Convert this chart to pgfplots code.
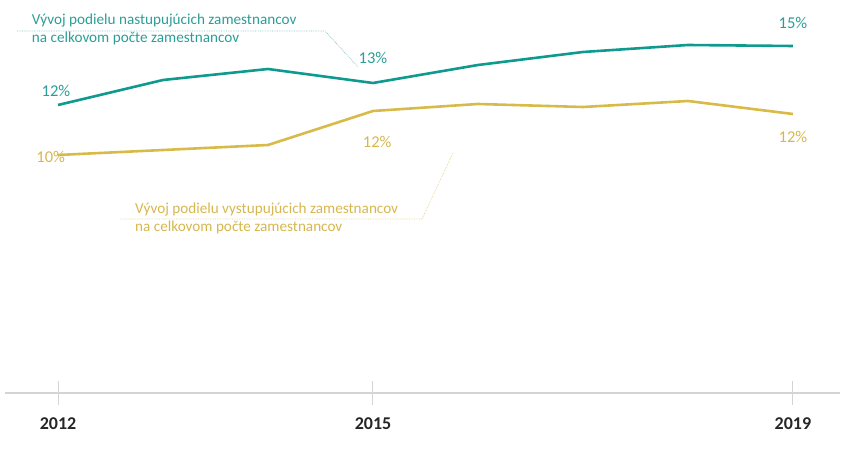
\documentclass[border=0pt]{standalone}
\usepackage{fontspec}
\setmainfont{Carlito}
\usepackage{pgfplots}
\pgfplotsset{compat=1.18}

\definecolor{teal1}{HTML}{0E9A8E}
\definecolor{gold1}{HTML}{D8BA48}
\definecolor{tealtxt}{HTML}{2A9E96}
\definecolor{goldtxt}{HTML}{D6B74E}
\definecolor{axgray}{HTML}{D4D4D4}

\pgfplotstableread{
year new left
2012 12.1 9.6
2013 13.35 9.85
2014 13.9 10.1
2015 13.2 11.8
2016 14.1 12.15
2017 14.75 12.0
2018 15.1 12.3
2019 15.05 11.65
}\shares

\begin{document}
\begin{tikzpicture}
\useasboundingbox (-5pt,-78pt) rectangle (842pt,393pt);
\begin{axis}[
    scale only axis,
    width=835pt, height=393pt,
    xmin=2011.495, xmax=2019.448,
    ymin=-2.3, ymax=17.35,
    axis line style={draw=none},
    axis x line*=bottom,
    axis y line=none,
    xtick={2012,2015,2019},
    xticklabels={2012,2015,2019},
    ytick=\empty,
    major tick length=24pt,
    tick align=center,
    tick style={axgray, line width=1pt},
    xticklabel style={font=\fontsize{18}{20}\selectfont\bfseries, text=black!85, anchor=center, yshift=-19pt},
    clip=false,
]
\draw[axgray, line width=1.6pt] (axis cs:2011.495,-2.3) -- (axis cs:2019.448,-2.3);
\addplot[teal1, line width=2.6pt, mark=none] table[x=year, y=new] {\shares};
\addplot[gold1, line width=2.6pt, mark=none] table[x=year, y=left] {\shares};

% value labels
\begin{scope}[font=\fontsize{16.5}{18}\selectfont]
\node[text=tealtxt] at (axis cs:2011.98,12.8) {12\%};
\node[text=tealtxt] at (axis cs:2015.0,14.45) {13\%};
\node[text=tealtxt] at (axis cs:2019.0,16.2) {15\%};
\node[text=goldtxt] at (axis cs:2011.93,9.5) {10\%};
\node[text=goldtxt] at (axis cs:2015.04,10.25) {12\%};
\node[text=goldtxt] at (axis cs:2019.0,10.5) {12\%};
\end{scope}

% annotations
\draw[tealtxt!60, densely dotted, line width=0.7pt]
  (axis cs:2011.61,15.8) -- (axis cs:2014.543,15.8) -- (axis cs:2014.857,14.0);
\draw[goldtxt!65, densely dotted, line width=0.7pt]
  (axis cs:2012.59,6.4) -- (axis cs:2015.467,6.4) -- (axis cs:2015.762,9.7);
\begin{scope}[font=\fontsize{15.2}{17}\selectfont, inner sep=0pt]
\node[text=tealtxt, anchor=base west] at (axis cs:2011.75,16.1) {Vývoj podielu nastupujúcich zamestnancov};
\node[text=tealtxt, anchor=base west] at (axis cs:2011.75,15.2) {na celkovom počte zamestnancov};
\node[text=goldtxt, anchor=base west] at (axis cs:2012.733,6.65) {Vývoj podielu vystupujúcich zamestnancov};
\node[text=goldtxt, anchor=base west] at (axis cs:2012.733,5.75) {na celkovom počte zamestnancov};
\end{scope}
\end{axis}
\end{tikzpicture}
\end{document}
